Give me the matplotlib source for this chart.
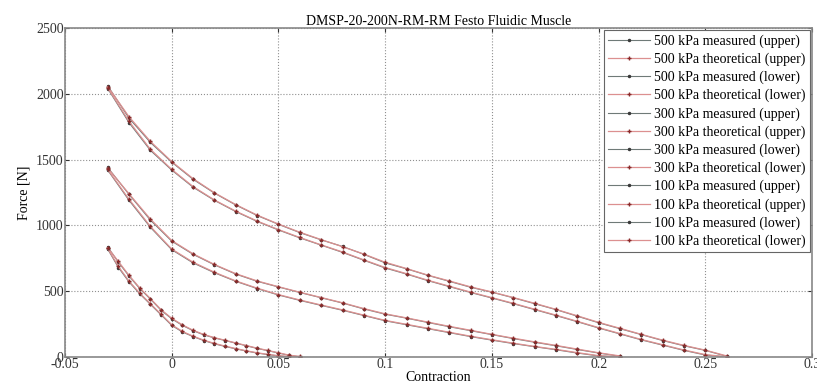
import matplotlib
matplotlib.use('Agg')
import matplotlib.pyplot as plt

plt.rcParams['font.family'] = ['Liberation Serif', 'DejaVu Serif']

# contraction values
x500 = [-0.03, -0.02, -0.01, 0.0, 0.01, 0.02, 0.03, 0.04, 0.05, 0.06,
        0.07, 0.08, 0.09, 0.10, 0.11, 0.12, 0.13, 0.14, 0.15, 0.16,
        0.17, 0.18, 0.19, 0.20, 0.21, 0.22, 0.23, 0.24, 0.25, 0.26]
x300 = [-0.03, -0.02, -0.01, 0.0, 0.01, 0.02, 0.03, 0.04, 0.05, 0.06,
        0.07, 0.08, 0.09, 0.10, 0.11, 0.12, 0.13, 0.14, 0.15, 0.16,
        0.17, 0.18, 0.19, 0.20, 0.21]
x100 = [-0.03, -0.025, -0.02, -0.015, -0.01, -0.005, 0.0, 0.005, 0.01, 0.015,
        0.02, 0.025, 0.03, 0.035, 0.04, 0.045, 0.05, 0.055, 0.06]

# force [N]
f500_meas_up = [2060, 1815, 1630, 1480, 1350, 1245, 1155, 1075, 1008, 945,
                890, 840, 780, 715, 670, 620, 575, 530, 492, 450,
                405, 360, 310, 260, 215, 170, 125, 85, 50, 5]
f500_theo_up = [2055, 1825, 1638, 1485, 1355, 1248, 1158, 1078, 1010, 948,
                892, 838, 782, 720, 672, 622, 578, 533, 494, 452,
                408, 362, 313, 263, 218, 172, 128, 88, 52, 8]
f500_meas_lo = [2040, 1780, 1570, 1420, 1290, 1190, 1105, 1030, 965, 905,
                850, 795, 735, 676, 630, 580, 535, 490, 448, 405,
                360, 315, 268, 220, 175, 130, 90, 50, 15, 0]
f500_theo_lo = [2045, 1790, 1578, 1425, 1295, 1193, 1108, 1033, 968, 908,
                852, 798, 738, 680, 633, 583, 538, 493, 451, 408,
                363, 318, 271, 223, 178, 133, 93, 53, 18, 2]

f300_meas_up = [1440, 1235, 1040, 880, 780, 700, 630, 575, 532, 490,
                450, 410, 365, 325, 295, 262, 230, 200, 170, 140,
                112, 85, 57, 30, 5]
f300_theo_up = [1435, 1240, 1048, 885, 784, 703, 633, 578, 534, 492,
                452, 412, 368, 328, 297, 265, 233, 203, 172, 143,
                115, 88, 60, 32, 8]
f300_meas_lo = [1420, 1190, 985, 815, 715, 640, 575, 520, 471, 430,
                392, 355, 315, 275, 245, 215, 185, 155, 128, 102,
                78, 55, 30, 8, 0]
f300_theo_lo = [1425, 1198, 992, 820, 720, 644, 578, 523, 474, 433,
                395, 358, 318, 278, 248, 218, 188, 158, 131, 105,
                80, 58, 33, 10, 2]

f100_meas_up = [836, 720, 615, 520, 440, 355, 290, 240, 200, 168,
                145, 125, 105, 85, 65, 48, 30, 12, 2]
f100_theo_up = [830, 726, 620, 525, 444, 360, 294, 244, 203, 171,
                147, 127, 107, 87, 67, 50, 32, 14, 4]
f100_meas_lo = [820, 680, 570, 480, 400, 320, 240, 190, 155, 125,
                100, 80, 62, 45, 30, 18, 8, 2, 0]
f100_theo_lo = [825, 688, 576, 485, 405, 325, 245, 194, 158, 128,
                103, 83, 64, 47, 32, 20, 10, 4, 1]

series = [
    ('500 kPa measured (upper)', x500, f500_meas_up, 'meas'),
    ('500 kPa theoretical (upper)', x500, f500_theo_up, 'theo'),
    ('500 kPa measured (lower)', x500, f500_meas_lo, 'meas'),
    ('500 kPa theoretical (lower)', x500, f500_theo_lo, 'theo'),
    ('300 kPa measured (upper)', x300, f300_meas_up, 'meas'),
    ('300 kPa theoretical (upper)', x300, f300_theo_up, 'theo'),
    ('300 kPa measured (lower)', x300, f300_meas_lo, 'meas'),
    ('300 kPa theoretical (lower)', x300, f300_theo_lo, 'theo'),
    ('100 kPa measured (upper)', x100, f100_meas_up, 'meas'),
    ('100 kPa theoretical (upper)', x100, f100_theo_up, 'theo'),
    ('100 kPa measured (lower)', x100, f100_meas_lo, 'meas'),
    ('100 kPa theoretical (lower)', x100, f100_theo_lo, 'theo'),
]

fig = plt.figure(figsize=(8.17, 3.92), dpi=100)
ax = fig.add_axes([0.0796, 0.0893, 0.9144, 0.8393])

for label, xs, ys, kind in series:
    if kind == 'meas':
        ax.plot(xs, ys, color='#6f7a78', lw=0.8, marker='.', ms=3,
                mfc='#3a3a3a', mec='#3a3a3a', label=label)
    else:
        ax.plot(xs, ys, color='#dc9090', lw=0.9, marker='+', ms=3,
                mec='#8a2a2a', label=label)

ax.set_xlim(-0.05, 0.3)
ax.set_ylim(0, 2500)
ax.set_xticks([-0.05, 0, 0.05, 0.1, 0.15, 0.2, 0.25, 0.3])
ax.set_xticklabels(['-0.05', '0', '0.05', '0.1', '0.15', '0.2', '0.25', '0.3'])
ax.set_yticks([0, 500, 1000, 1500, 2000, 2500])
ax.grid(True, linestyle=':', color='#909090', lw=0.8)
ax.tick_params(direction='in', top=True, right=True, labelsize=10,
               colors='#333333', length=3, pad=1)
for s in ax.spines.values():
    s.set_color('#888888')
    s.set_linewidth(1.2)

ax.set_title('DMSP-20-200N-RM-RM Festo Fluidic Muscle', fontsize=10, pad=2)
ax.set_xlabel('Contraction', fontsize=10, labelpad=0)
ax.set_ylabel('Force [N]', fontsize=10, labelpad=4)

leg = ax.legend(loc='upper right', fontsize=10, labelspacing=0.34,
                handlelength=3.0, handletextpad=0.3, borderaxespad=0.15,
                fancybox=False, framealpha=1, edgecolor='#666666',
                borderpad=0.3)
leg.get_frame().set_linewidth(0.8)

plt.savefig('out.png', dpi=100)
